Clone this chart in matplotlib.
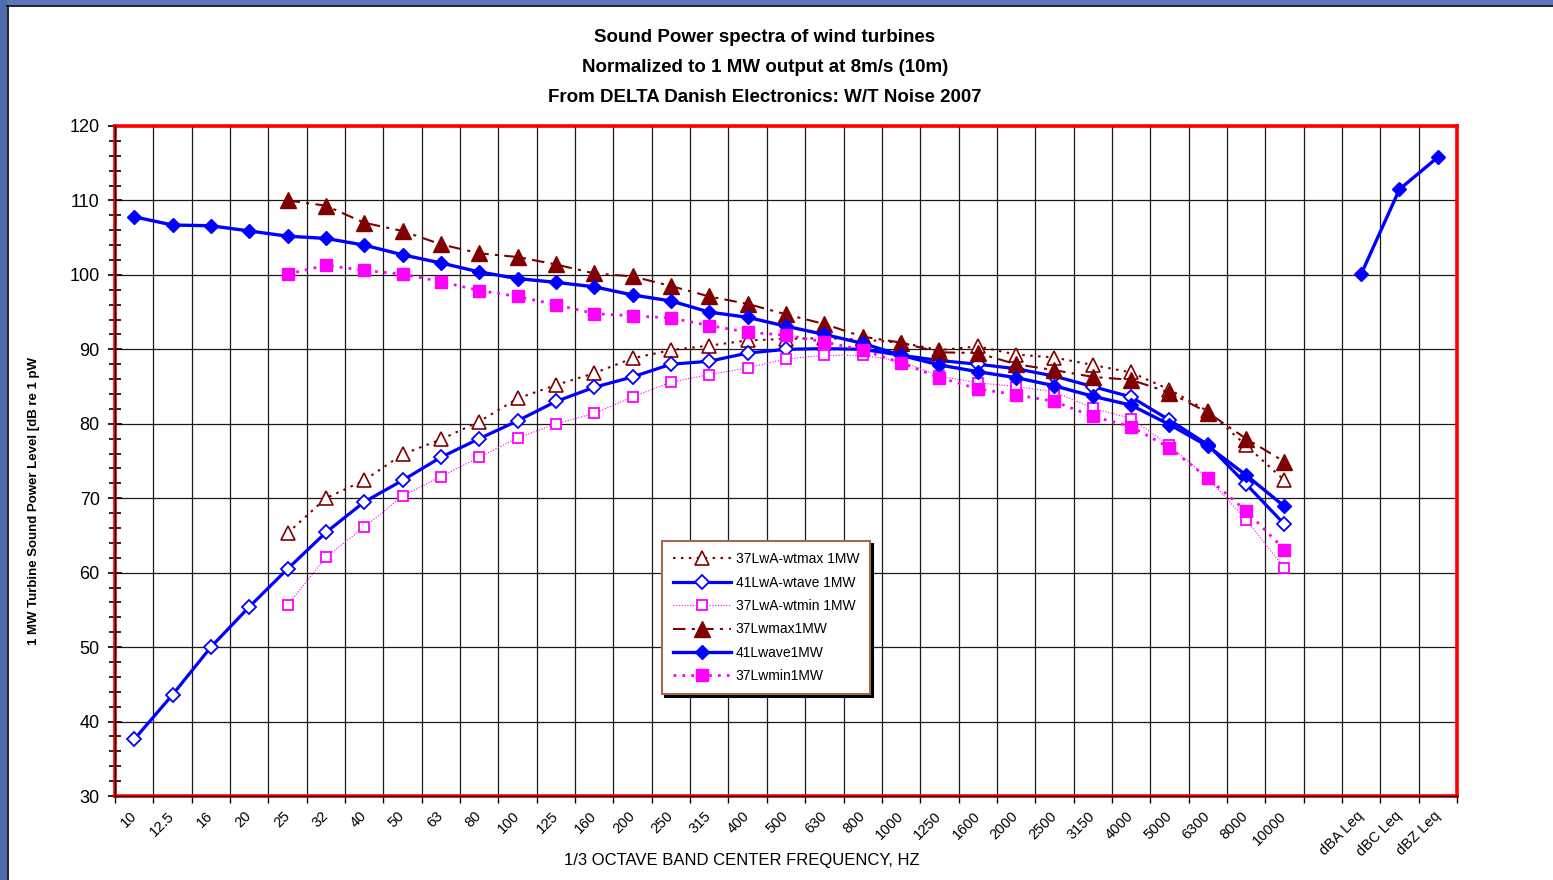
import numpy as np
import matplotlib.pyplot as plt
from matplotlib.patches import Rectangle
from matplotlib.lines import Line2D
from matplotlib.ticker import MultipleLocator, FixedLocator

plt.rcParams['font.family'] = ['Liberation Sans', 'DejaVu Sans']

nan = np.nan

# 1/3 octave band labels, one blank slot, then the overall levels
bands = ['10', '12.5', '16', '20', '25', '32', '40', '50', '63', '80', '100', '125',
         '160', '200', '250', '315', '400', '500', '630', '800', '1000', '1250',
         '1600', '2000', '2500', '3150', '4000', '5000', '6300', '8000', '10000',
         '', 'dBA Leq', 'dBC Leq', 'dBZ Leq']

# 41 turbines, average (unweighted), 10 Hz .. 10 kHz
lw_ave = [107.8, 106.7, 106.6, 105.9, 105.2, 104.9, 104.0, 102.7, 101.6, 100.4,
          99.5, 99.0, 98.4, 97.3, 96.5, 95.0, 94.3, 93.1, 92.0, 90.8, 89.2, 87.9,
          87.0, 86.2, 85.1, 83.7, 82.5, 79.9, 77.0, 73.1, 68.9]
lw_leq = [100.1, 111.5, 115.8]   # dBA, dBC, dBZ

# 41 turbines, average A-weighted
lwa_ave = [37.6, 43.6, 50.0, 55.4, 60.5, 65.4, 69.5, 72.4, 75.5, 78.0, 80.4, 83.0,
           84.9, 86.3, 88.0, 88.4, 89.5, 90.0, 90.1, 90.0, 89.2, 88.5, 88.0, 87.4,
           86.4, 85.0, 83.6, 80.5, 77.2, 71.9, 66.5]

# 37 turbines, max / min, 25 Hz .. 10 kHz
lw_max = [110.0, 109.3, 107.0, 105.9, 104.1, 102.9, 102.4, 101.4, 100.2, 99.8,
          98.5, 97.1, 96.1, 94.7, 93.4, 91.7, 90.9, 89.6, 89.5, 88.0, 87.2, 86.3,
          85.9, 84.2, 81.5, 78.0, 74.9]
lw_min = [100.1, 101.3, 100.6, 100.1, 99.1, 97.9, 97.1, 96.0, 94.8, 94.5, 94.2,
          93.2, 92.3, 91.9, 91.0, 89.9, 88.2, 86.2, 84.7, 83.9, 83.0, 81.0, 79.6,
          76.8, 72.7, 68.3, 63.1]
lwa_max = [65.3, 70.0, 72.4, 75.9, 77.9, 80.3, 83.4, 85.2, 86.8, 88.8, 89.9, 90.5,
           91.2, 91.4, 91.5, 91.3, 90.9, 89.9, 90.4, 89.3, 88.9, 87.9, 86.9, 84.6,
           81.7, 77.1, 72.4]
lwa_min = [55.6, 62.1, 66.1, 70.3, 72.9, 75.5, 78.1, 80.0, 81.4, 83.6, 85.6, 86.6,
           87.5, 88.7, 89.2, 89.2, 88.4, 86.4, 85.5, 85.0, 84.3, 82.1, 80.7, 77.1,
           72.7, 67.1, 60.6]


def pad37(v):
    return np.array([nan] * 4 + v + [nan] * 4)


x = np.arange(len(bands))
y_lw_ave = np.array(lw_ave + [nan] + lw_leq)
y_lwa_ave = np.array(lwa_ave + [nan] * 4)

maroon = '#800000'
blue = '#0000ff'
magenta = '#ff00ff'

fig = plt.figure(figsize=(15.53, 8.8), dpi=100)
ax = fig.add_axes([115 / 1553, 84 / 880, 1342 / 1553, 670 / 880])

# window frame along top and left edge
fig.patches.append(Rectangle((0, 1 - 5 / 880), 1, 5 / 880, transform=fig.transFigure,
                             facecolor='#5b78bb', edgecolor='none'))
fig.patches.append(Rectangle((0, 0), 7 / 1553, 1, transform=fig.transFigure,
                             facecolor='#4f6cae', edgecolor='none'))
fig.lines.append(Line2D([7 / 1553, 1], [1 - 6 / 880, 1 - 6 / 880], transform=fig.transFigure,
                        color='black', lw=1.2))
fig.lines.append(Line2D([7.5 / 1553, 7.5 / 1553], [0, 1 - 6 / 880], transform=fig.transFigure,
                        color='black', lw=1.2))

ax.plot(x, pad37(lwa_max), color=maroon, lw=1.5, ls=(0, (1.2, 2.6)), marker='^', ms=10.5,
        mfc='white', mec=maroon, mew=1.2, label='37LwA-wtmax 1MW', zorder=3)
ax.plot(x, y_lwa_ave, color=blue, lw=2.3, ls='-', marker='D', ms=7, mfc='white',
        mec=blue, mew=1.3, label='41LwA-wtave 1MW', zorder=3)
ax.plot(x, pad37(lwa_min), color=magenta, lw=0.8, ls=(0, (1, 1.5)), marker='s', ms=7.5,
        mfc='white', mec=magenta, mew=1.3, label='37LwA-wtmin 1MW', zorder=3)
ax.plot(x, pad37(lw_max), color=maroon, lw=1.5, ls=(0, (6, 3, 1.5, 3)), marker='^', ms=11,
        mfc=maroon, mec=maroon, label='37Lwmax1MW', zorder=4)
ax.plot(x, y_lw_ave, color=blue, lw=2.4, ls='-', marker='D', ms=7.5, mfc=blue, mec=blue,
        label='41Lwave1MW', zorder=4)
ax.plot(x, pad37(lw_min), color=magenta, lw=2, ls=(0, (1, 2.2)), marker='s', ms=8,
        mfc=magenta, mec=magenta, label='37Lwmin1MW', zorder=4)

ax.set_xlim(-0.5, len(bands) - 0.5)
ax.set_ylim(30, 120)

# category boundaries carry the grid, centres carry the labels
ax.xaxis.set_major_locator(FixedLocator(x))
ax.set_xticklabels(bands, rotation=45, ha='right', va='center', rotation_mode='anchor',
                   fontsize=10.5)
ax.xaxis.set_minor_locator(FixedLocator(np.arange(-0.5, len(bands), 1)))
ax.tick_params(axis='x', which='major', length=0, pad=13)
ax.tick_params(axis='x', which='minor', length=5, width=1, direction='out', color='black')
ax.grid(True, axis='x', which='minor', color='#1a1a1a', lw=0.9)

ax.yaxis.set_major_locator(MultipleLocator(10))
ax.yaxis.set_minor_locator(MultipleLocator(2))
ax.tick_params(axis='y', which='major', direction='inout', length=10, width=1.2,
               labelsize=13, pad=6)
ax.tick_params(axis='y', which='minor', direction='inout', length=8, width=1.2)
ax.grid(True, axis='y', which='major', color='#1a1a1a', lw=0.9)
ax.set_axisbelow(True)

for s in ax.spines.values():
    s.set_color('#ff0000')
    s.set_linewidth(2.6)
ax.axvline(-0.5, color='black', lw=0.9, zorder=5, clip_on=False)
ax.axhline(30, color='black', lw=0.9, zorder=5, clip_on=False)

ax.set_xlabel('1/3 OCTAVE BAND CENTER FREQUENCY, HZ', fontsize=12)
ax.xaxis.set_label_coords(0.467, -0.085)
ax.set_ylabel('1 MW Turbine Sound Power Level [dB re 1 pW', fontsize=9.5,
              fontweight='bold')
ax.yaxis.set_label_coords(-0.056, 0.44)

fig.text(0.4926, 1 - 38 / 880, 'Sound Power spectra of wind turbines', ha='center',
         va='center', fontsize=13.5, fontweight='bold')
fig.text(0.4926, 1 - 68 / 880, 'Normalized to 1 MW output at 8m/s (10m)', ha='center',
         va='center', fontsize=13.5, fontweight='bold')
fig.text(0.4926, 1 - 97 / 880, 'From DELTA Danish Electronics: W/T Noise 2007',
         ha='center', va='center', fontsize=13.5, fontweight='bold')

leg = ax.legend(loc='upper left', bbox_to_anchor=(0.4076, 0.3806), fontsize=10,
                frameon=True, fancybox=False, borderpad=0.8, handlelength=4.2,
                handletextpad=0.3, labelspacing=0.68, borderaxespad=0,
                shadow={'color': 'black', 'alpha': 1})
leg.get_frame().set_edgecolor('#a8674c')
leg.get_frame().set_linewidth(1.5)
leg.get_frame().set_facecolor('white')
leg.set_zorder(10)

fig.savefig('out.png', dpi=100, facecolor='white')
